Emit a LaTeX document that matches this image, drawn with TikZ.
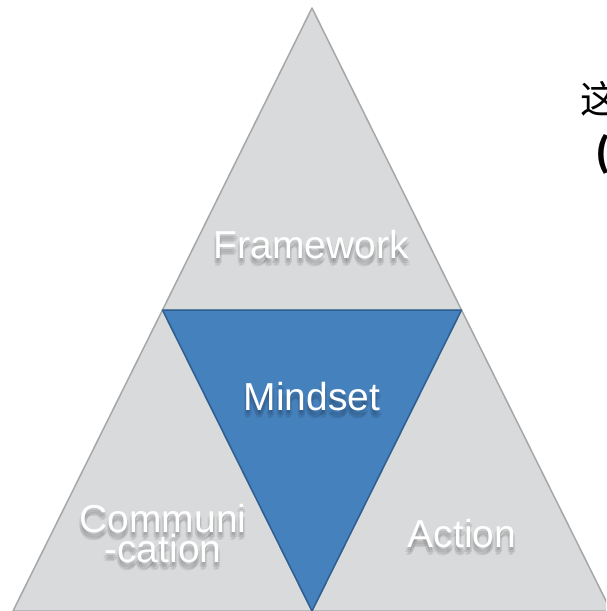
\documentclass[tikz,border=0pt]{standalone}
\usepackage{fontspec}
\setmainfont{Liberation Sans}
\newfontfamily\cjkfont{Noto Sans CJK SC}
\definecolor{sidegray}{HTML}{D9DADB}
\definecolor{edgegray}{HTML}{A6A7A8}
\definecolor{mindblue}{HTML}{4581BD}
\definecolor{edgeblue}{HTML}{2D5F92}
\tikzset{
	sidetri/.style={fill=sidegray, draw=edgegray, line width=1.5pt, line join=round},
	mindtri/.style={fill=mindblue, draw=edgeblue, line width=1.5pt, line join=round},
	wordtext/.style={text=white, inner sep=0pt, anchor=base, align=center, font=\fontsize{39}{27}\selectfont},
	wordshadow/.style={wordtext, text=black, text opacity=0.07},
	notetext/.style={anchor=base west, inner sep=0pt, font=\cjkfont\fontsize{38}{44}\selectfont}
}
\begin{document}
\begin{tikzpicture}[x=1pt, y=-1pt]
	\useasboundingbox (0,0) rectangle (606,611);
	\clip (0,0) rectangle (606,611);
	\fill[white] (0,0) rectangle (606,611);
	
	\coordinate (top) at (312,8);
	\coordinate (botleft) at (13,611);
	\coordinate (botright) at (611,611);
	\coordinate (midleft) at (162.5,310);
	\coordinate (midright) at (461.5,310);
	\coordinate (botmid) at (312,611);
	
	\filldraw[sidetri] (top) -- (midleft) -- (midright) -- cycle;
	\filldraw[sidetri] (midleft) -- (botleft) -- (botmid) -- cycle;
	\filldraw[sidetri] (midright) -- (botmid) -- (botright) -- cycle;
	\filldraw[mindtri] (midleft) -- (midright) -- (botmid) -- cycle;
	
	\foreach \dx/\dy [count=\i] in {0/3, 2/5, -2/5, 1/7, -1/8} {
		\node[wordshadow] (frameshadow\i) at (311.5+\dx,258+\dy) {Framework};
		\node[wordshadow] (mindshadow\i) at (312+\dx,410.5+\dy) {Mindset};
		\node[wordshadow] (commshadow\i) at (163+\dx,562+\dy) {Communi\\-cation};
		\node[wordshadow] (actshadow\i) at (462+\dx,547+\dy) {Action};
	}
	
	\node[wordtext] (framework) at (311.5,258) {Framework};
	\node[wordtext] (mindset) at (312,410.5) {Mindset};
	\node[wordtext] (communication) at (163,562) {Communi\\-cation};
	\node[wordtext] (action) at (462,547) {Action};
	
	\node[notetext] (notefirst) at (580,113) {这};
	\node[notetext, font=\cjkfont\bfseries\fontsize{38}{44}\selectfont] (notesecond) at (595.5,166) {(};
\end{tikzpicture}
\end{document}
